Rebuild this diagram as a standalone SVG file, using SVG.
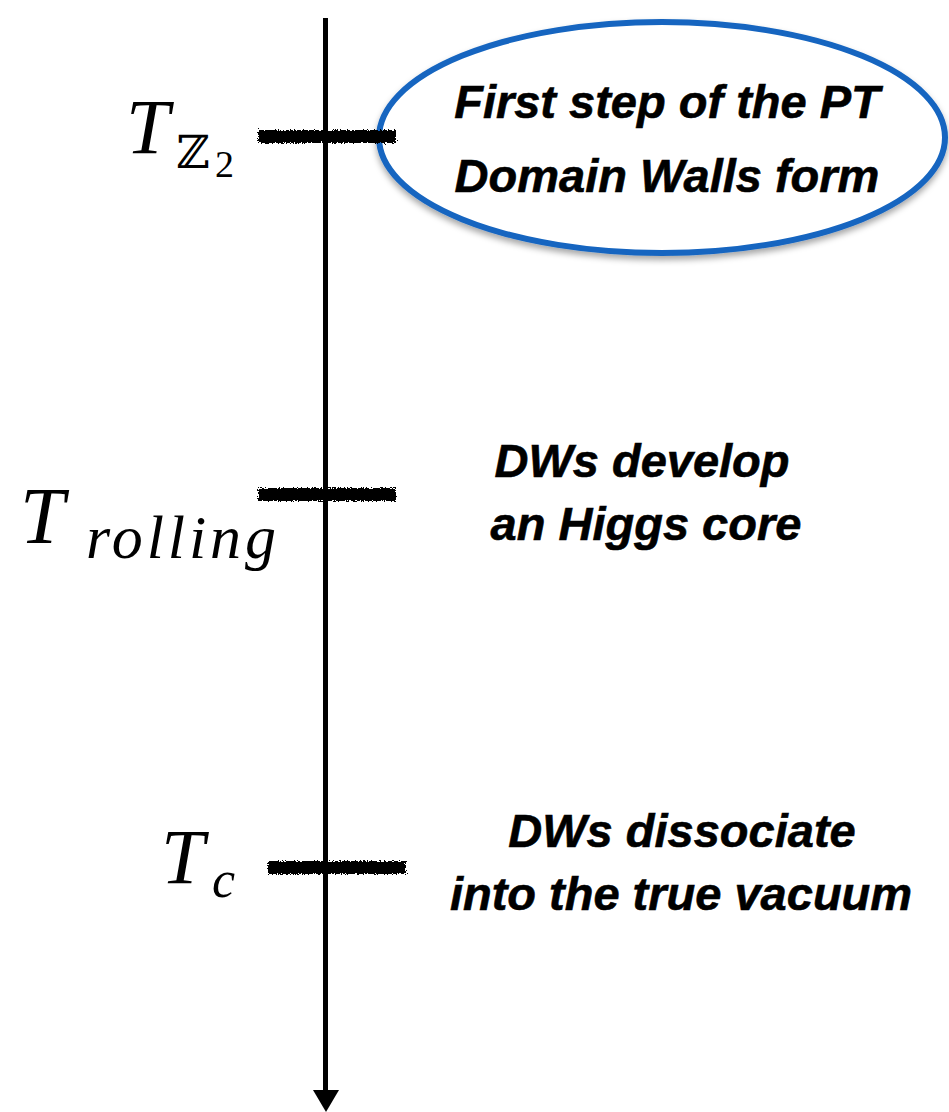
<svg xmlns="http://www.w3.org/2000/svg" width="949" height="1112" viewBox="0 0 949 1112">
  <style>
    .lbl { font-family: "Liberation Sans", Arial, sans-serif; font-weight: bold; font-style: italic; font-size: 47px; fill: #000; text-anchor: middle; stroke: #000; stroke-width: 0.6; }
    .math { font-family: "Liberation Serif", "Times New Roman", serif; font-style: italic; fill: #000; }
    .bb { font-family: "DejaVu Serif", "DejaVu Sans", serif; font-style: normal; fill: #000; }
    .num { font-family: "Liberation Serif", "Times New Roman", serif; font-style: normal; fill: #000; }
    .tick { fill: #000; filter: url(#rough); }
  </style>
  <defs>
    <filter id="rough" filterUnits="userSpaceOnUse" x="0" y="0" width="949" height="1112">
      <feTurbulence type="fractalNoise" baseFrequency="0.7" numOctaves="2" seed="3" result="n"/>
      <feDisplacementMap in="SourceGraphic" in2="n" scale="5" xChannelSelector="R" yChannelSelector="G"/>
    </filter>
    <filter id="shadow" x="-10%" y="-10%" width="120%" height="130%">
      <feDropShadow dx="0" dy="4" stdDeviation="3" flood-color="#000" flood-opacity="0.35"/>
    </filter>
  </defs>

  <g id="connectors">
    <line x1="325.5" y1="18" x2="325.5" y2="1092" stroke="#000" stroke-width="5"/>
    <polygon points="313,1090 339,1090 326,1112" fill="#000"/>
  </g>

  <g id="node-first-step">
    <ellipse cx="662" cy="137.5" rx="283" ry="115.5" fill="#fff" stroke="#1565C0" stroke-width="6" filter="url(#shadow)"/>
    <text class="lbl" x="667" y="118">First step of the PT</text>
    <text class="lbl" x="667" y="192">Domain Walls form</text>
  </g>

  <g id="tick-z2">
    <rect class="tick" x="258" y="130" width="138" height="13"/>
  </g>
  <g id="tick-rolling">
    <rect class="tick" x="258" y="488" width="138" height="13"/>
  </g>
  <g id="tick-c">
    <rect class="tick" x="268" y="861" width="138" height="13"/>
  </g>

  <g id="label-TZ2">
    <text class="math" x="126" y="153" font-size="78">T</text>
    <text class="bb" x="176" y="168" font-size="46">ℤ</text>
    <text class="num" x="215" y="177" font-size="38">2</text>
  </g>
  <g id="label-Trolling">
    <text class="math" x="20" y="543" font-size="80">T</text>
    <text class="math" x="86" y="558" font-size="62" textLength="190" lengthAdjust="spacing">rolling</text>
  </g>
  <g id="label-Tc">
    <text class="math" x="161" y="883" font-size="78">T</text>
    <text class="math" x="212" y="897" font-size="52">c</text>
  </g>

  <g id="node-higgs-core">
    <text class="lbl" x="642" y="477">DWs develop</text>
    <text class="lbl" x="646" y="540">an Higgs core</text>
  </g>

  <g id="node-dissociate">
    <text class="lbl" x="682" y="847">DWs dissociate</text>
    <text class="lbl" x="681" y="910">into the true vacuum</text>
  </g>
</svg>
